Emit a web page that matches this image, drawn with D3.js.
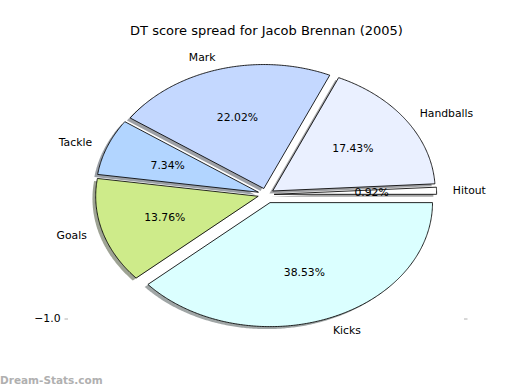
<!DOCTYPE html>
<html><head><meta charset="utf-8">
<script src="https://cdn.jsdelivr.net/npm/d3@7"></script>
<style>body{margin:0;background:#fff}svg{display:block}</style>
</head><body>
<script>
const categories = ["Hitout", "Handballs", "Mark", "Tackle", "Goals", "Kicks"];
const values = [1, 19, 24, 8, 15, 42];
const colors = ["#FFFFFF", "#EAF0FF", "#C4D8FF", "#B2D5FF", "#CEEB8A", "#DBFFFF"];
const explode = [0.05, 0.05, 0.05, 0.05, 0.05, 0.07];
const yTicks = [-1];
const title = "DT score spread for Jacob Brennan (2005)";
const watermark = "Dream-Stats.com";

const W = 520, H = 390;
const svg = d3.select("body").append("svg").attr("width", W).attr("height", H);
const font = "DejaVu Sans, sans-serif";

const x = d3.scaleLinear().domain([-1.24, 1.24]).range([64.5, 467.5]);
const y = d3.scaleLinear().domain([-1.25, 1.25]).range([349.5, 39.5]);

const pie = d3.pie().sort(null).value(d => d)(values);
const total = d3.sum(values);

function wedgePts(i, ox, oy) {
  const p = pie[i];
  const t1 = p.startAngle, t2 = p.endAngle, tm = (t1 + t2) / 2;
  const cxd = explode[i] * Math.cos(tm) + ox, cyd = explode[i] * Math.sin(tm) + oy;
  const n = Math.max(4, Math.ceil((t2 - t1) / 0.01));
  const pts = [[x(cxd), y(cyd)]];
  for (let k = 0; k <= n; k++) {
    const t = t1 + (t2 - t1) * k / n;
    pts.push([x(cxd + Math.cos(t)), y(cyd + Math.sin(t))]);
  }
  return {pts, cxd, cyd, tm};
}
const line = d3.line();

// shadows
const gs = svg.append("g");
pie.forEach((p, i) => {
  const c = d3.rgb(colors[i]);
  const sc = d3.rgb(c.r * 0.3, c.g * 0.3, c.b * 0.3);
  gs.append("path").attr("d", line(wedgePts(i, -0.02, -0.02).pts) + "Z")
    .attr("fill", sc).attr("fill-opacity", 0.5).attr("stroke", "none");
});
// wedges
const gw = svg.append("g");
pie.forEach((p, i) => {
  gw.append("path").attr("d", line(wedgePts(i, 0, 0).pts) + "Z")
    .attr("fill", colors[i]).attr("stroke", "#000").attr("stroke-width", 0.85)
    .attr("stroke-linejoin", "miter");
});
// labels
const fmt = d3.format(".2f");
pie.forEach((p, i) => {
  const w = wedgePts(i, 0, 0);
  const lx = w.cxd + 1.1 * Math.cos(w.tm), ly = w.cyd + 1.1 * Math.sin(w.tm);
  svg.append("text").attr("x", x(lx)).attr("y", y(ly)).attr("dy", "0.35em")
    .attr("text-anchor", lx > 0 ? "start" : "end")
    .attr("font-family", font).attr("font-size", 10.8).attr("fill", "#000")
    .text(categories[i]);
  const px = w.cxd + 0.6 * Math.cos(w.tm), py = w.cyd + 0.6 * Math.sin(w.tm);
  svg.append("text").attr("x", x(px)).attr("y", y(py)).attr("dy", "0.35em")
    .attr("text-anchor", "middle")
    .attr("font-family", font).attr("font-size", 10.8).attr("fill", "#000")
    .text(fmt(values[i] / total * 100) + "%");
});

// axes ticks
const la = svg.append("g").attr("transform", `translate(${x.range()[0]},0)`)
  .call(d3.axisLeft(y).tickValues(yTicks).tickSizeInner(-3.5).tickSizeOuter(0).tickPadding(4).tickFormat(d3.format(".1f")));
la.select(".domain").remove();
la.selectAll("line").attr("stroke", "#b0b0b0");
la.selectAll("text").attr("font-family", font).attr("font-size", 10.8).attr("fill", "#000");
const ra = svg.append("g").attr("transform", `translate(${x.range()[1]},0)`)
  .call(d3.axisRight(y).tickValues(yTicks).tickSizeInner(-3.5).tickSizeOuter(0).tickFormat(""));
ra.select(".domain").remove();
ra.selectAll("line").attr("stroke", "#b0b0b0");

// title
svg.append("text").attr("x", 266.5).attr("y", 30).attr("dy", "0.35em")
  .attr("text-anchor", "middle").attr("font-family", font).attr("font-size", 13)
  .attr("fill", "#000").text(title);
// watermark
svg.append("text").attr("x", 0).attr("y", 384).attr("font-family", font)
  .attr("font-size", 10.5).attr("font-weight", "bold").attr("fill", "#b0b0b0").text(watermark);
</script>
</body></html>
